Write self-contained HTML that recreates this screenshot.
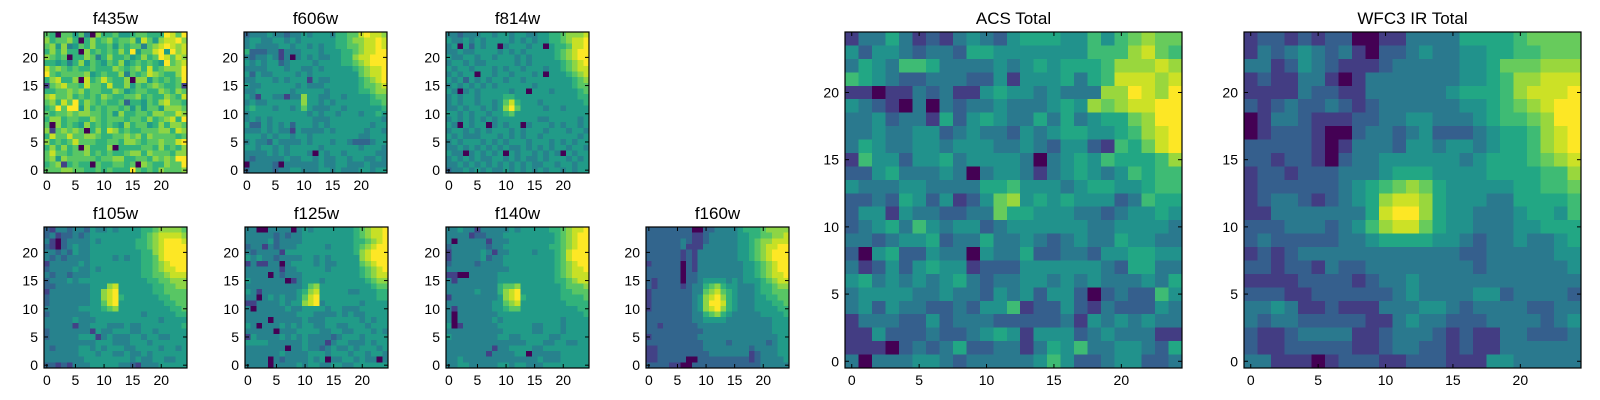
<!DOCTYPE html>
<html><head><meta charset="utf-8">
<style>
html,body{margin:0;padding:0;background:#fff;}
svg{display:block;font-family:"Liberation Sans",sans-serif;}
</style></head>
<body>
<svg id="fig" width="1600" height="400" viewBox="0 0 1600 400" xmlns="http://www.w3.org/2000/svg"></svg>
<script>
// ---- data: rows listed from y=24 (top) down to y=0; digit values 0-9, 'a' = 10 ----
const xTicks = [0, 5, 10, 15, 20];
const yTicks = [0, 5, 10, 15, 20];
const panelTitles = ["f435w","f606w","f814w","f105w","f125w","f140w","f160w","ACS Total","WFC3 IR Total"];

const f435w = ["6506646307556445665559869","7566750575675667486478897","6747346575564656636789878","5757550756565759466894978","7656055763575564575698687","5545357465465745656549678","8676565565557656758567779","9656666745655736568765579","5785570856865570774656569","1678665866585574656765561","5566767566557645665576576","7866756565765566756557658","6758695765655625546578665","5696994756566564646647776","6566767766564755665776687","5775665576566656657567859","6075654756565475664575776","7167676057587565566677587","5866866776556676757666656","7565686665566577656676689","5757560755570555566575657","6866566756565567757666577","6747666665667755665767699","5671565506556656076557669","6667766556565559656576667"];
const f606w = ["2333433233434443556689887","3443344343444444556778898","3433334434434344556678898","5222331333444344455678899","3233431303434334455788999","4343442344443444455678999","3333444344334344444567889","4243344443434444444467889","3344434344414334444456789","4334444443433344444456678","3344444434444434444455677","4314433133744334434444566","3433444444744343444444556","4544434434643334434444445","3444444444434344344434454","3434344444443334444444443","4224343424443434444444344","3334343314333343444443443","4443434434434444444433444","3433243333434443443222344","4434434344444344444434443","3333434344430434434444433","3233333433443433443443343","0333320333333433443334333","2333323344333443433344344"];
const f814w = ["3323334434434433445567778","4334343444434343445567889","3404243440344434404556889","3343344443434344444567899","4334434434443434444567899","3443433444443434444456789","4344344434344344434456788","3434404434434443404445678","4342434344344344444444567","3434343434444443444444566","4303434444434404443444456","3434434444554444444444455","3434434434685444344444445","3343443434796444434434444","4434344344564444444444444","3434343434444444334444434","4304344034344034443434434","3443434344434344434443443","4343334443434344344444434","3434443434344434443434344","3343434343433434343443443","4330343434043443434304344","3434343344343433434443434","3343434343434343344344344","2334343433434343434434344"];
const f105w = ["2133233243343444455677776","2312232344444444456788887","3102333343444444556789998","2102343344444444556789999","3323243344444444455789999","3232333344443434455689999","1333334344444444455678999","2333343343444444455678899","3233233344444444455667888","2333434444444444445566777","2233333344478444444556677","1333333344789444444556666","2333333344789544444455666","2333333344689444444445566","3333334444567444444444556","2333333344444444434444455","3333343334444444444434444","3333313344433343344444445","2333333314334443344344444","2333334441343334434433444","3333333334443334443444444","3233334434344433444434434","3333334443443343343444444","3333333444444443433443344","2212133344444332133344444"];
const f125w = ["3300333303434444444567889","3333323233444444444567889","3333423333444444444556789","2331323334444434444567899","3233331444444444444578999","4343323333443434444478999","1311330344443433444467899","3333331334444434444456789","3333032333444444444456788","4333333013444344444445677","3333333333467444444444566","4313333334578444443344455","3303434334689444444444455","1133334344789344444434444","3033333433444434433344444","3333333334443333434334444","3333033333433344444434344","4303334343443344334443444","3333303334444334433444343","1433334343433332344434444","4444333333433313443334344","3333333033433234334344434","3333334333344434443443443","3333032333343403344343303","3333033334344334433444444"];
const f140w = ["3343313333343444445567889","3333122333444444444567899","3033333133344444444567899","2333333233444444445567899","1333334313344443444568999","1333334233444444444568999","2333323333444444444567899","3333333333344444444567889","1100333334444444444567888","3133333334444444444556788","3333333335667444444456667","3333343335789444444455666","1333333334789544444455556","3333333344678444444445555","3133333344566444444444455","3033333334444444444444445","3033333343444444444434444","4013333334444443344434444","3333333333444443344434444","4333333334433444443344444","3333333333333344433443344","3333333313344443344444444","3333333133334403333344444","3343333333333333433344444","3344333334434433344444444"];
const f160w = ["2222222200223333455567777","2222222211233333445566778","2222223211233333445677888","2222223111333333445678899","2222221213333333445678999","2222221213333333445678999","1222220213333333344567899","2222220213333333344567899","2222220223333333344567889","2122220223444434344456788","2122221233567544333455677","1222222233678654333455666","1222222234789754333445566","1222222234799854333444556","1222222234789754333444455","2222222233567543333344445","2222222233444433333333444","2212222223333333333333444","2222222222333333333333444","1222222223333333333333344","2222222222333323333332344","1122222222333333332333344","1122222222233333331233344","1122222002222222221233334","2222110022222222222233333"];
const acsTotal = ["1335312134324555446467877","4244323325544444446668976","3543665333343454555688898","6543223332241444535699989","110113231145443433388a98a","43210303233433345487899aa","33423315245433535345578aa","334334423433243455445689a","354334434443343244216579a","1644244534444303454655568","2245333430344313454346566","4333443333556444345544566","2232542412478454544423655","2441433223375544433234454","2345364344234444443344443","3323445233533432343354433","2045224330433522332445544","3124245441222444444325533","4534343453233443434333435","3444433433243424420232264","3424332232446122421322243","1333224233322222314343433","1142223223454144423433311","1110232352233135463344325","3033344323333346422344223"];
const wfc3Total = ["1221212200113333555567777","1323432310223433445566777","3312432111233333445777888","1211331013333333445688999","111132211333333455568999a","21232232123333334456789aa","01332111223344333456678aa","012221002332342223455689a","222221013332443443455689a","2212210233444444345556789","1221222333455544445555668","1222222345678754444455667","1233212345899854443355556","11333333359aa854433345546","2223332346899754433344555","2322222334555544323343345","1212333333333333223333344","2212213223333333323333334","1111222212334333333333333","2221122222234333344233332","3343112111333443233332233","3233222221134332223333234","2112333311233321211332223","2112222211233221211333333","3311101222112221114433333"];

// ---- layout ----
const panels = [
  {title:panelTitles[0], data:f435w,     x:44,   y:32,  w:143, h:141, name:'f435w'},
  {title:panelTitles[1], data:f606w,     x:244,  y:32,  w:143, h:141, name:'f606w'},
  {title:panelTitles[2], data:f814w,     x:446,  y:32,  w:143, h:141, name:'f814w'},
  {title:panelTitles[3], data:f105w,     x:44,   y:227, w:143, h:141, name:'f105w'},
  {title:panelTitles[4], data:f125w,     x:245,  y:227, w:143, h:141, name:'f125w'},
  {title:panelTitles[5], data:f140w,     x:446,  y:227, w:143, h:141, name:'f140w'},
  {title:panelTitles[6], data:f160w,     x:646,  y:227, w:143, h:141, name:'f160w'},
  {title:panelTitles[7], data:acsTotal,  x:845,  y:32,  w:337, h:336, name:'acs-total'},
  {title:panelTitles[8], data:wfc3Total, x:1244, y:32,  w:337, h:336, name:'wfc3-ir-total'}
];

const VIR = [[68,1,84],[72,36,117],[65,68,135],[53,95,141],[42,120,142],[33,145,140],[34,168,132],[68,191,112],[122,209,81],[189,223,38],[253,231,37]];
function viridis(t){
  t = Math.max(0, Math.min(1, t));
  const p = t*(VIR.length-1), i = Math.min(Math.floor(p), VIR.length-2), f = p-i;
  const a = VIR[i], b = VIR[i+1];
  return 'rgb(' + [0,1,2].map(k => Math.round(a[k]+(b[k]-a[k])*f)).join(',') + ')';
}
function parseGrid(rows){ return rows.map(r => r.split('').map(c => c === 'a' ? 10 : parseInt(c, 10))); }

const NS = 'http://www.w3.org/2000/svg';
const svg = document.getElementById('fig');
function mk(tag, attrs, parent){
  const e = document.createElementNS(NS, tag);
  for (const k in attrs) e.setAttribute(k, attrs[k]);
  parent.appendChild(e);
  return e;
}

panels.forEach(p => {
  const g = mk('g', {}, svg);
  
  
  const grid = parseGrid(p.data);
  const n = grid.length;
  let mn = Infinity, mx = -Infinity;
  grid.forEach(r => r.forEach(v => { mn = Math.min(mn, v); mx = Math.max(mx, v); }));
  const sx = v => p.x + (v + 0.5) / n * p.w;
  const sy = v => p.y + p.h - (v + 0.5) / n * p.h;
  const sc = v => Math.pow((v - mn) / (mx - mn), 0.75);
  const cw = p.w / n, ch = p.h / n;
  const cells = mk('g', {'shape-rendering':'crispEdges'}, g);
  
  
  for (let r = 0; r < n; r++){
    const yv = n - 1 - r;
    for (let c = 0; c < n; c++){
      const v = grid[r][c];
      const rect = mk('rect', {x:(sx(c)-cw/2).toFixed(2), y:(sy(yv)-ch/2).toFixed(2), width:(cw+0.6).toFixed(2), height:(ch+0.6).toFixed(2), fill:viridis(sc(v))}, cells);
      
      
    }
  }
  const frame = mk('rect', {x:p.x, y:p.y, width:p.w, height:p.h, fill:'none', stroke:'#000', 'stroke-width':1.2}, g);
  
  
  const tl = 4;
  xTicks.forEach(t => {
    const X = sx(t);
    mk('line', {x1:X, x2:X, y1:p.y+p.h, y2:p.y+p.h-tl, stroke:'#000', 'stroke-width':1}, g);
    mk('line', {x1:X, x2:X, y1:p.y, y2:p.y+tl, stroke:'#000', 'stroke-width':1}, g);
    const tx = mk('text', {x:X, y:p.y+p.h+17, 'font-size':14, 'text-anchor':'middle', fill:'#000'}, g);
    
    
    tx.textContent = t;
  });
  yTicks.forEach(t => {
    const Y = sy(t);
    mk('line', {x1:p.x, x2:p.x+tl, y1:Y, y2:Y, stroke:'#000', 'stroke-width':1}, g);
    mk('line', {x1:p.x+p.w, x2:p.x+p.w-tl, y1:Y, y2:Y, stroke:'#000', 'stroke-width':1}, g);
    const ty = mk('text', {x:p.x-6, y:Y+5, 'font-size':14, 'text-anchor':'end', fill:'#000'}, g);
    
    
    ty.textContent = t;
  });
  const title = mk('text', {x:p.x+p.w/2, y:p.y-8, 'font-size':17, 'text-anchor':'middle', fill:'#000'}, g);
  
  
  title.textContent = p.title;
});
</script>
</body></html>
